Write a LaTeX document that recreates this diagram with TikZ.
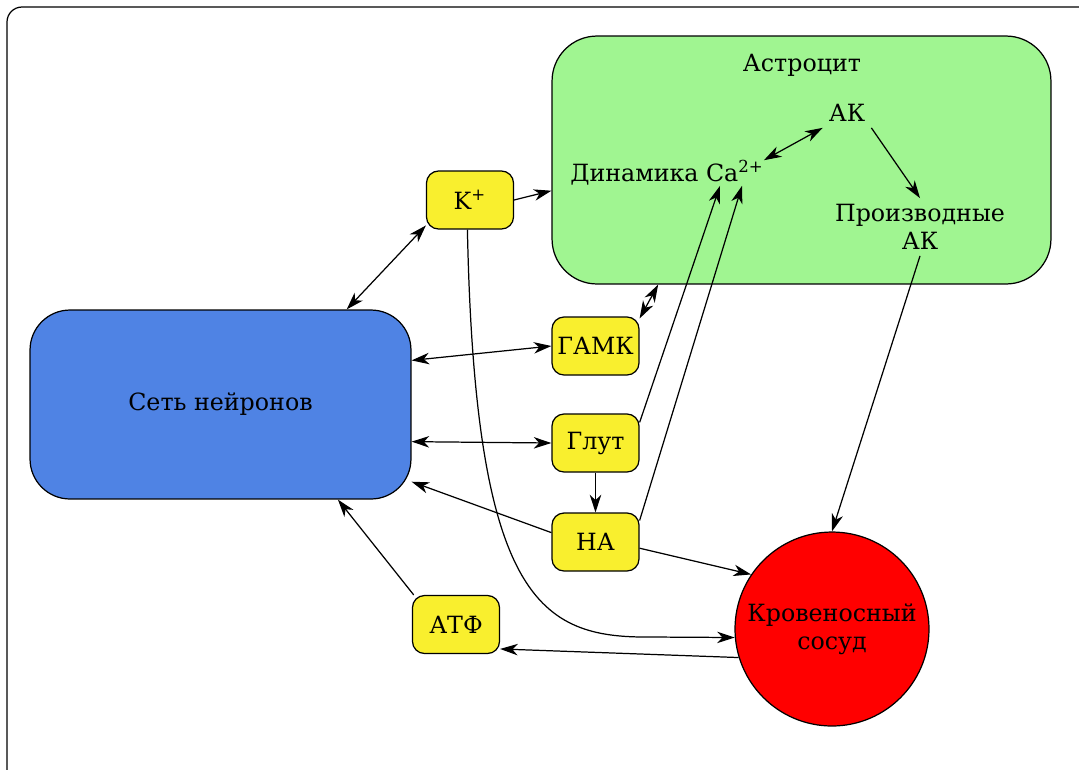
\documentclass[tikz,border=0pt]{standalone}
\usepackage{fontspec}
\setmainfont{DejaVu Serif}
\usepackage{tikz}
\usetikzlibrary{arrows.meta,shapes,positioning}
\definecolor{astrogreen}{RGB}{160,245,145}
\definecolor{netblue}{RGB}{79,131,228}
\definecolor{chemyellow}{RGB}{249,239,46}
\definecolor{vesselred}{RGB}{255,0,0}

\begin{document}
\begin{tikzpicture}[
    x=0.02cm, y=-0.02cm,
    every node/.style={font=\fontsize{13.5}{16}\selectfont},
    cell style/.style={draw, line width=0.7pt, inner sep=0pt},
    chem style/.style={draw, line width=0.7pt, rounded corners=0.24cm, fill=chemyellow, minimum width=1.74cm, minimum height=1.16cm, inner sep=0pt},
    arrow style/.style={-{Stealth[length=10pt,width=6.5pt,inset=3pt]}, line width=0.7pt},
    double arrow style/.style={{Stealth[length=10pt,width=6.5pt,inset=3pt]}-{Stealth[length=10pt,width=6.5pt,inset=3pt]}, line width=0.7pt}
]
\useasboundingbox (0,0) rectangle (1079,769);
\draw[rounded corners=0.3cm, line width=0.7pt] (7,7) rectangle (1100,790);

% astrocyte
\node[cell style, fill=astrogreen, minimum width=9.98cm, minimum height=4.96cm, rounded corners=0.9cm] (astro) at (801.5,160) {};
\node (astrotitle) at (802,65) {Астроцит};
\node (ak) at (847,113) {АК};
\node (ca) at (667,173) {Динамика Ca\textsuperscript{2+}};
\node[align=center] (dak) at (920,227) {Производные\\АК};

% neurons, messengers, vessel
\node[cell style, fill=netblue, minimum width=7.62cm, minimum height=3.78cm, rounded corners=0.8cm] (net) at (220.5,404.5) {Сеть нейронов};
\node[chem style] (kplus) at (470,200) {K\textsuperscript{+}};
\node[chem style] (gaba) at (595.5,346) {ГАМК};
\node[chem style] (glut) at (595.5,443) {Глут};
\node[chem style] (na) at (595.5,542) {НА};
\node[chem style] (atp) at (456,624.5) {АТФ};
\node[circle, draw, line width=0.7pt, fill=vesselred, minimum size=3.88cm, align=center, inner sep=0pt] (vessel) at (832,629) {Кровеносный\\сосуд};

% connections
\draw[double arrow style] (net.37) -- (kplus.210);
\draw[arrow style] (kplus.east) -- (astro.187);
\draw[arrow style] (kplus.265) .. controls (475,600) and (540,638) .. (650,637) -- (vessel.185);
\draw[double arrow style] (net.13) -- (gaba.west);
\draw[double arrow style] (gaba.32) -- (astro.221);
\draw[double arrow style] (net.-11) -- (glut.west);
\draw[arrow style] (glut.south) -- (na.north);
\draw[arrow style] (glut.25) -- ([shift={(53,-6)}]ca.south);
\draw[arrow style] (na.26) -- ([shift={(75,-6)}]ca.south);
\draw[arrow style] (na.168) -- (net.-22);
\draw[arrow style] (na.-8) -- (vessel.146);
\draw[arrow style] (atp.145) -- (net.-39);
\draw[arrow style] (vessel.197) -- (atp.-29);
\draw[double arrow style] ([shift={(-6,6)}]ca.north east) -- (ak.south west);
\draw[arrow style] (ak.south east) -- (dak.north);
\draw[arrow style] (dak.south) -- (vessel.north);
\end{tikzpicture}
\end{document}
